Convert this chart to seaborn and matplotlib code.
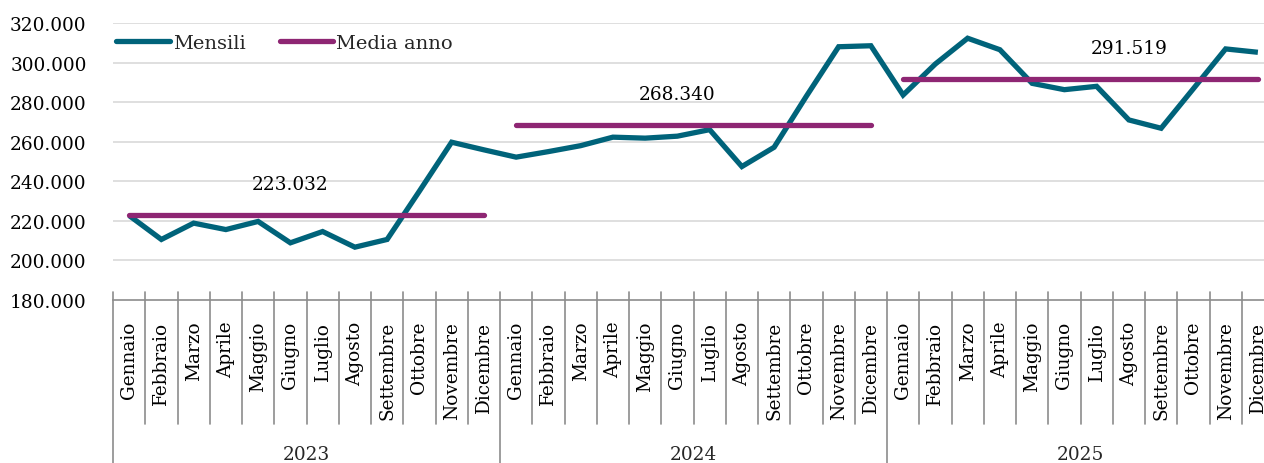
import matplotlib
matplotlib.use("Agg")
import matplotlib.pyplot as plt
import seaborn as sns
import pandas as pd
import numpy as np

# ---- data ----
mesi = ["Gennaio", "Febbraio", "Marzo", "Aprile", "Maggio", "Giugno",
        "Luglio", "Agosto", "Settembre", "Ottobre", "Novembre", "Dicembre"]
anni = ["2023", "2024", "2025"]
mensili_2023 = [222700, 210600, 218850, 215600, 219700, 208900,
                214600, 206700, 210600, 235000, 259750, 255900]
mensili_2024 = [252200, 255000, 258000, 262300, 261800, 262800,
                266100, 247450, 257200, 283000, 308000, 308500]
mensili_2025 = [283600, 299300, 312300, 306500, 289500, 286300,
                288000, 271000, 266800, 286800, 306900, 305200]
medie_anno = [223032, 268340, 291519]
y_ticks = [180000, 200000, 220000, 240000, 260000, 280000, 300000, 320000]

# label anchor (month index within full series) for each yearly mean
label_idx = [5, 17, 31]

TEAL = "#00637A"
PURPLE = "#8E2673"
GRID = "#D9D9D9"
AXIS = "#8C8C8C"

def fmt(v):
    return f"{v:,.0f}".replace(",", ".")

mensili = mensili_2023 + mensili_2024 + mensili_2025
n = len(mensili)
df = pd.DataFrame({
    "idx": np.arange(n),
    "valore": mensili,
    "anno": np.repeat(anni, 12),
})
df["media"] = np.repeat(medie_anno, 12)

sns.set_theme(style="white")
plt.rcParams["font.family"] = ["DejaVu Serif"]
plt.rcParams["font.size"] = 13

fig = plt.figure(figsize=(12.64, 4.64), dpi=100)
W, H = 1264, 464
ax = fig.add_axes([113 / W, 1 - 301 / H, 1161 / W, 277 / H])

# gridlines
for t in y_ticks[1:]:
    ax.axhline(t, color=GRID, lw=1.2, zorder=0)

sns.lineplot(data=df, x="idx", y="valore", ax=ax, color=TEAL, lw=3.8,
             estimator=None, label="Mensili", solid_capstyle="butt",
             solid_joinstyle="miter", zorder=3)
first = True
for a in anni:
    sub = df[df["anno"] == a]
    sns.lineplot(data=sub, x="idx", y="media", ax=ax, color=PURPLE, lw=3.8,
                 estimator=None, label="Media anno" if first else None,
                 solid_capstyle="round", zorder=4)
    first = False

# mean labels
for a, m, li in zip(anni, medie_anno, label_idx):
    ax.annotate(fmt(m), xy=(li, m), xytext=(0, 22.5), textcoords="offset points",
                ha="center", va="center", fontsize=13.3, color="black")

ax.set_xlim(-0.5, n - 0.5)
ax.set_ylim(y_ticks[0], y_ticks[-1])
ax.set_yticks(y_ticks)
ax.set_yticklabels([fmt(t) for t in y_ticks])
ax.tick_params(axis="y", length=0, pad=19, labelsize=13.3, colors="black")

ax.set_xticks(np.arange(n))
ax.set_xticklabels(mesi * 3, rotation=90, ha="center", va="top")
ax.tick_params(axis="x", length=0, pad=15, labelsize=13.3, colors="black")
ax.set_xlabel("")
ax.set_ylabel("")

for s in ["top", "left", "right"]:
    ax.spines[s].set_visible(False)
ax.spines["bottom"].set_color(AXIS)
ax.spines["bottom"].set_linewidth(1.2)

# category separators (ticks) and year separators
trans = ax.get_xaxis_transform()
ah = 277.0
for b in range(n + 1):
    x = b - 0.5
    if b % 12 == 0:
        ax.plot([x, x], [8 / ah, -(163 / ah)], transform=trans, color=AXIS,
                lw=1.2, clip_on=False, zorder=1)
    else:
        ax.plot([x, x], [8 / ah, -(124 / ah)], transform=trans, color=AXIS,
                lw=1.2, clip_on=False, zorder=1)

for k, a in enumerate(anni):
    ax.text(12 * k + 5.5, -(159 / ah), a, transform=trans, ha="center",
            va="baseline", fontsize=13.3)

leg = ax.legend(loc="center left", bbox_to_anchor=(0.003, (301 - 44) / ah),
                ncol=2, frameon=False, fontsize=14, handlelength=2.75,
                handletextpad=0.15, columnspacing=1.75, borderpad=0,
                borderaxespad=0)
for h in leg.get_lines():
    h.set_solid_capstyle("round")
    h.set_linewidth(3.8)

fig.savefig("out.png", dpi=100)
